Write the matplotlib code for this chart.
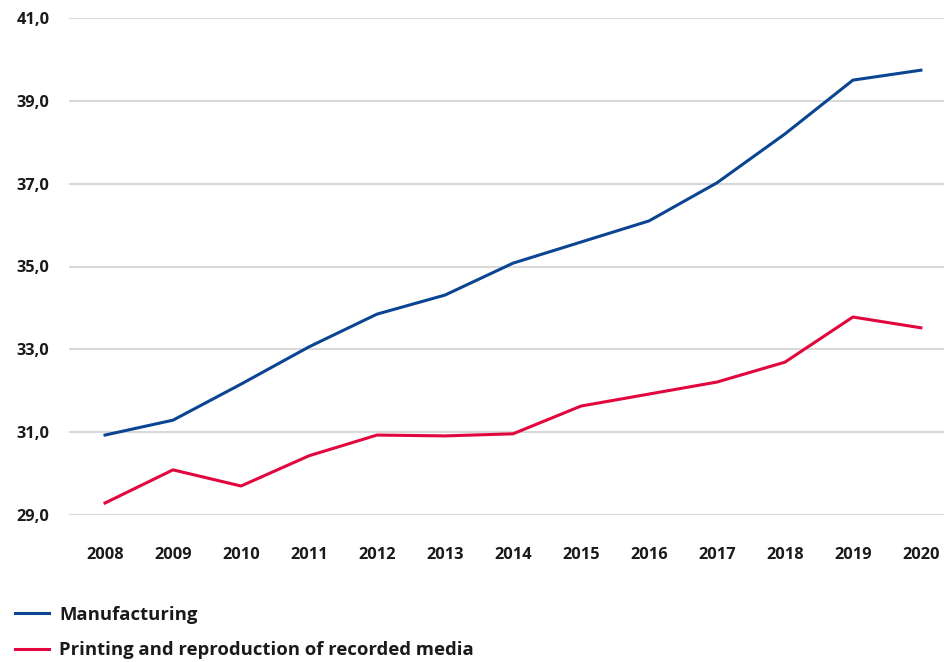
import os
import matplotlib
matplotlib.use("Agg")
import matplotlib.pyplot as plt
from matplotlib.ticker import FuncFormatter
from matplotlib import font_manager
from matplotlib.font_manager import FontProperties

# pick the regular-width bold face explicitly (condensed files share the family name)
bold_path = None
for name in ["Open Sans", "Lato"]:
    cands = []
    for f in font_manager.fontManager.ttflist:
        base = os.path.basename(f.fname).lower()
        if f.name != name or f.style != "normal":
            continue
        if any(k in base for k in ("cond", "semi", "extra", "italic", "light", "black")):
            continue
        if "bold" in base:
            cands.append(f.fname)
    if cands:
        bold_path = sorted(cands, key=lambda p: len(os.path.basename(p)))[0]
        break

def bold(size):
    if bold_path:
        return FontProperties(fname=bold_path, size=size)
    return FontProperties(family="DejaVu Sans", weight="bold", size=size)

years = [2008, 2009, 2010, 2011, 2012, 2013, 2014, 2015, 2016, 2017, 2018, 2019, 2020]
manufacturing = [30.93, 31.29, 32.16, 33.06, 33.85, 34.31, 35.08, 35.59, 36.10, 37.02, 38.20, 39.50, 39.74]
printing = [29.29, 30.09, 29.70, 30.43, 30.93, 30.91, 30.96, 31.63, 31.92, 32.21, 32.69, 33.78, 33.52]
y_ticks = [29, 31, 33, 35, 37, 39, 41]

blue = "#0b4592"
red = "#e2063f"

fig = plt.figure(figsize=(9.44, 6.62), dpi=100)
ax = fig.add_axes([69 / 944, 1 - 515 / 662, (944 - 69) / 944, (515 - 18) / 662])

ax.plot(years, manufacturing, color=blue, lw=2.2, label="Manufacturing")
ax.plot(years, printing, color=red, lw=2.2, label="Printing and reproduction of recorded media")

ax.set_xlim(2007.47, 2020.34)
ax.set_ylim(29, 41)
ax.set_yticks(y_ticks)
ax.set_xticks(years)
ax.yaxis.set_major_formatter(FuncFormatter(lambda v, p: f"{v:.1f}".replace(".", ",")))
ax.grid(axis="y", color="#d9d9d9", lw=1.5)
ax.set_axisbelow(True)
for s in ax.spines.values():
    s.set_visible(False)
ax.tick_params(length=0, colors="#1a1a1a")
ax.tick_params(axis="y", pad=14)
ax.tick_params(axis="x", pad=23)
for lbl in ax.get_xticklabels() + ax.get_yticklabels():
    lbl.set_fontproperties(bold(11.8))

leg = fig.legend(loc="upper left", bbox_to_anchor=(-0.002, 0.11), frameon=False,
                 prop=bold(13.3), handlelength=1.85,
                 handletextpad=0.55, labelspacing=0.95)
for t in leg.get_texts():
    t.set_color("#1a1a1a")

fig.savefig("out.png", dpi=100)
